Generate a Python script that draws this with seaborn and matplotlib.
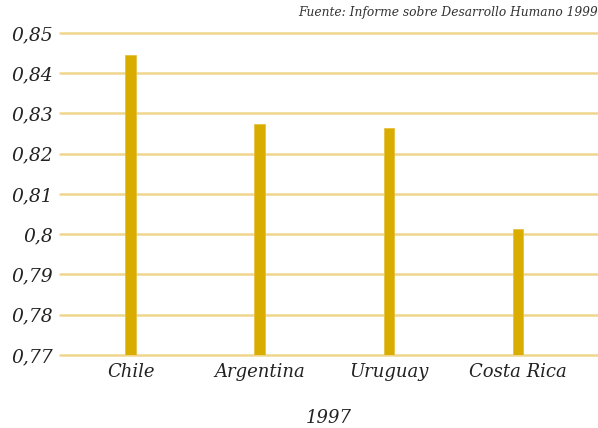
import matplotlib
matplotlib.use("Agg")
import matplotlib.pyplot as plt
import seaborn as sns
import pandas as pd

countries = ["Chile", "Argentina", "Uruguay", "Costa Rica"]
hdi_1997 = [0.8445, 0.8275, 0.8263, 0.8012]
y_ticks = [0.77, 0.78, 0.79, 0.80, 0.81, 0.82, 0.83, 0.84, 0.85]
y_tick_labels = ["0,77", "0,78", "0,79", "0,8", "0,81", "0,82", "0,83", "0,84", "0,85"]
source_text = "Fuente: Informe sobre Desarrollo Humano 1999"
x_title = "1997"

df = pd.DataFrame({"country": countries, "hdi": hdi_1997})

sns.set_theme(style="white")
plt.rcParams["font.family"] = ["DejaVu Serif"]

fig = plt.figure(figsize=(5.98, 4.28), dpi=100)
ax = fig.add_axes([0.1003, 0.1706, 0.8997, 0.7524])

grid_color = "#F0D68C"
for t in y_ticks:
    ax.axhline(t, color=grid_color, lw=1.8, zorder=0, clip_on=False)

sns.barplot(data=df, x="country", y="hdi", color="#D9AC00", saturation=1,
            width=0.085, ax=ax, zorder=2)
for p in ax.patches:
    p.set_edgecolor("#E6C040")
    p.set_linewidth(0.6)

ax.set_ylim(0.77, 0.85)
ax.set_xlim(-0.55, 3.62)
ax.set_yticks(y_ticks)
ax.set_yticklabels(y_tick_labels, fontsize=13.5, style="italic", color="#222222")
ax.set_xticks(range(len(countries)))
ax.set_xticklabels(countries, fontsize=13, style="italic", color="#222222")
ax.tick_params(axis="both", length=0, pad=6)
ax.tick_params(axis="y", pad=5)
ax.set_xlabel(x_title, fontsize=13, style="italic", color="#222222", labelpad=20)
ax.set_ylabel("")
for s in ax.spines.values():
    s.set_visible(False)
ax.grid(False)

fig.text(0.999, 0.985, source_text, ha="right", va="top", fontsize=8.8,
         style="italic", color="#333333")

fig.savefig("out.png", dpi=100)
